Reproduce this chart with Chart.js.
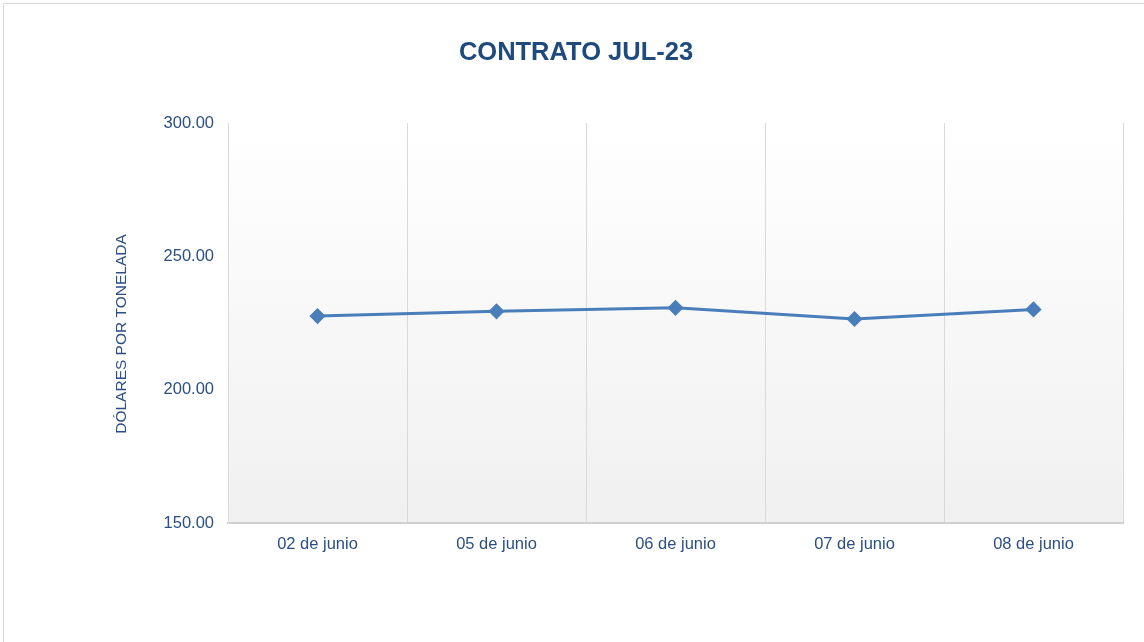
<!DOCTYPE html>
<html>
<head>
<meta charset="utf-8">
<script src="https://cdn.jsdelivr.net/npm/chart.js@4/dist/chart.umd.min.js"></script>
<style>
html,body{margin:0;padding:0;background:#fff;}
#wrap{width:1144px;height:642px;position:relative;}
</style>
</head>
<body>
<div id="wrap"><canvas id="c" width="1144" height="642"></canvas></div>
<script>
const chartTitle = "CONTRATO JUL-23";
const yAxisTitle = "DÓLARES POR TONELADA";
const categories = ["02 de junio", "05 de junio", "06 de junio", "07 de junio", "08 de junio"];
const prices = [227.6, 229.4, 230.7, 226.5, 230.1];
const yMin = 150, yMax = 300, yStep = 50;

const FONT = "'Liberation Sans', Arial, sans-serif";
const TXT = "#2b4f83";

const bgPlugin = {
  id: 'bg',
  beforeDraw(chart) {
    const ctx = chart.ctx, a = chart.chartArea;
    ctx.save();
    ctx.strokeStyle = '#d9d9d9';
    ctx.lineWidth = 1;
    ctx.beginPath();
    ctx.moveTo(3.5, 700);
    ctx.lineTo(3.5, 3.5);
    ctx.lineTo(1200, 3.5);
    ctx.stroke();
    const g = ctx.createLinearGradient(0, a.top, 0, a.bottom);
    g.addColorStop(0, '#ffffff');
    g.addColorStop(1, '#f0f0f0');
    ctx.fillStyle = g;
    ctx.fillRect(a.left, a.top, a.right - a.left, a.bottom - a.top);
    ctx.restore();
  },
  afterDraw(chart) {
    const ctx = chart.ctx;
    ctx.save();
    ctx.translate(122, 334);
    ctx.rotate(-Math.PI / 2);
    ctx.fillStyle = TXT;
    ctx.font = "15.5px " + FONT;
    ctx.textAlign = 'center';
    ctx.textBaseline = 'middle';
    ctx.fillText(yAxisTitle, 0, 0);
    ctx.restore();
  }
};

new Chart(document.getElementById('c'), {
  type: 'line',
  data: {
    labels: categories,
    datasets: [{
      data: prices,
      borderColor: '#4a7ebb',
      backgroundColor: '#4a7ebb',
      borderWidth: 3,
      pointStyle: 'rectRot',
      pointRadius: 6,
      pointHoverRadius: 6,
      tension: 0,
      fill: false
    }]
  },
  options: {
    responsive: false,
    animation: false,
    devicePixelRatio: 1,
    layout: { padding: { left: 29, right: 21, top: 0, bottom: 78 } },
    plugins: {
      legend: { display: false },
      tooltip: { enabled: false },
      title: {
        display: true,
        text: chartTitle,
        color: '#1f4a7e',
        font: { family: FONT, size: 25.5, weight: 'bold' },
        padding: { top: 38, bottom: 54.4 }
      }
    },
    scales: {
      x: {
        offset: true,
        grid: { display: true, offset: true, color: '#d9d9d9', lineWidth: 1, drawTicks: false },
        border: { display: true, color: '#d0d0d0', width: 2 },
        ticks: { color: TXT, font: { family: FONT, size: 16.5 }, padding: 12, maxRotation: 0 },
        afterFit(s) { s.height = 41; }
      },
      y: {
        min: yMin, max: yMax,
        grid: { display: false, drawTicks: false },
        border: { display: true, color: '#d9d9d9', width: 1 },
        ticks: {
          stepSize: yStep,
          color: TXT,
          font: { family: FONT, size: 16.5 },
          padding: 14,
          callback: v => Number(v).toFixed(2)
        },
        title: { display: false },
        afterFit(s) { s.width = 199; }
      }
    }
  },
  plugins: [bgPlugin]
});
</script>
</body>
</html>
